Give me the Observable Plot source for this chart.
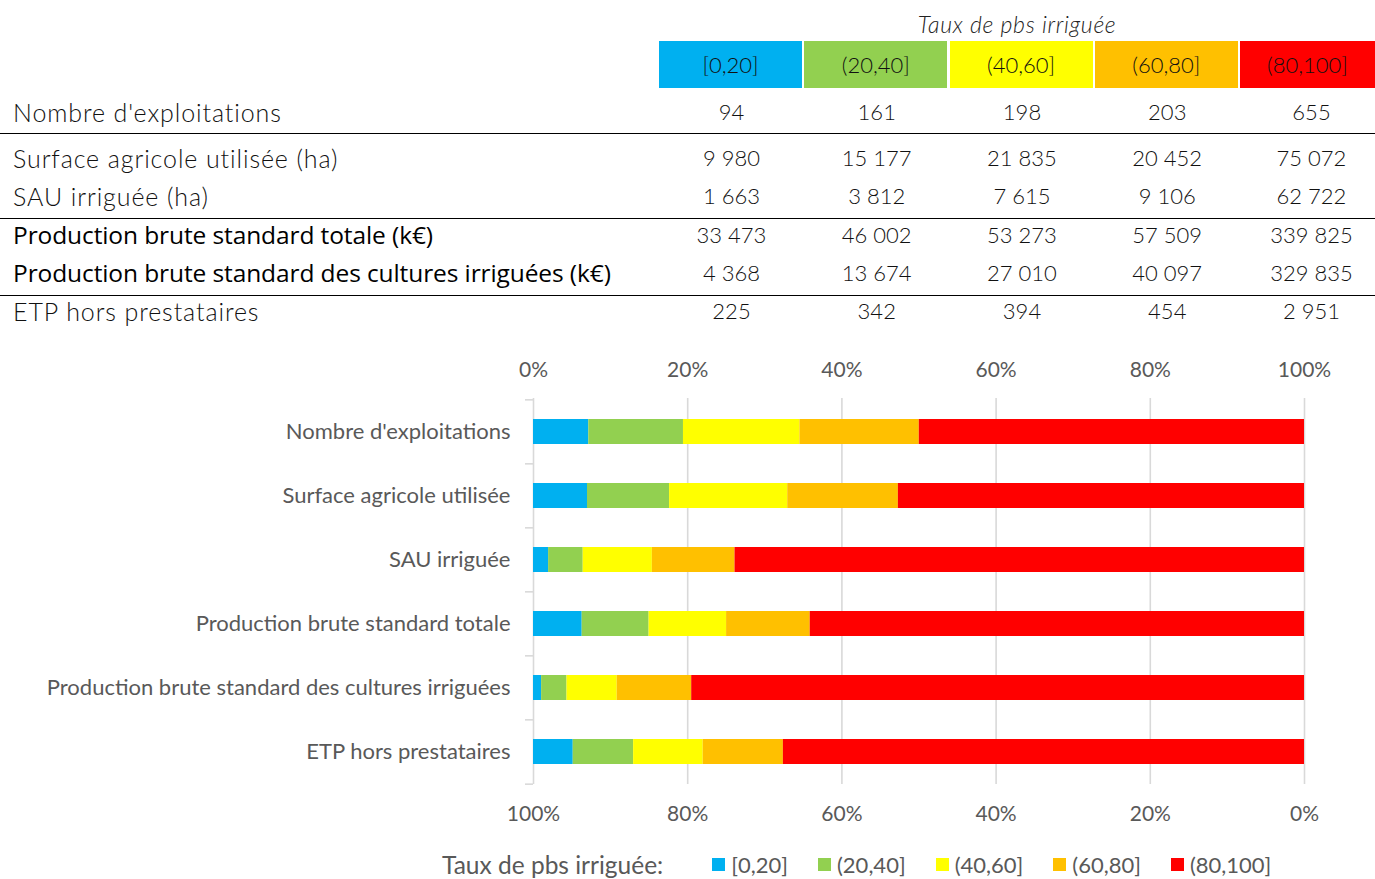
<!DOCTYPE html>
<html>
<head>
<meta charset="utf-8">
<script src="https://cdn.jsdelivr.net/npm/d3@7"></script>
<script src="https://cdn.jsdelivr.net/npm/@observablehq/plot@0.6"></script>
<style>
  html, body { margin: 0; padding: 0; background: #fff; }
  #page { position: relative; width: 1375px; height: 879px; overflow: hidden; font-family: Lato, sans-serif; }
  .thin { font-family: Lato, sans-serif; font-weight: 300; color: #111; }
  .abs { position: absolute; white-space: nowrap; }
  .hline { position: absolute; left: 0; width: 1375px; height: 0; border-top: 1.5px solid #000; }
  #chart { position: absolute; left: 0; top: 340px; }
  #legend { position: absolute; left: 442px; top: 850px; display: flex; align-items: center; font-family: Lato, sans-serif; font-size: 22px; color: #595959; }
  #legend .title { font-size: 24.5px; margin-right: 49px; }
  #legend .item { display: flex; align-items: center; margin-left: 30px; }
  #legend .sw { width: 13px; height: 13px; margin-right: 6px; }
</style>
</head>
<body>
<div id="page"></div>
<script>
// ---- data ----
const classes = ["[0,20]", "(20,40]", "(40,60]", "(60,80]", "(80,100]"];
const classColors = ["#00b0f0", "#92d050", "#ffff00", "#ffc000", "#ff0000"];
const legendTitle = "Taux de pbs irriguée";
const tableLabels = [
  "Nombre d'exploitations",
  "Surface agricole utilisée (ha)",
  "SAU irriguée (ha)",
  "Production brute standard totale (k€)",
  "Production brute standard des cultures irriguées (k€)",
  "ETP hors prestataires"
];
const chartLabels = [
  "Nombre d'exploitations",
  "Surface agricole utilisée",
  "SAU irriguée",
  "Production brute standard totale",
  "Production brute standard des cultures irriguées",
  "ETP hors prestataires"
];
const nbExploitations = [94, 161, 198, 203, 655];
const surfaceAgricole = [9980, 15177, 21835, 20452, 75072];
const sauIrriguee = [1663, 3812, 7615, 9106, 62722];
const pbsTotale = [33473, 46002, 53273, 57509, 339825];
const pbsIrriguee = [4368, 13674, 27010, 40097, 329835];
const etp = [225, 342, 394, 454, 2951];
const xTicks = [0, 0.2, 0.4, 0.6, 0.8, 1];

const series = [nbExploitations, surfaceAgricole, sauIrriguee, pbsTotale, pbsIrriguee, etp];

// ---- table ----
const page = document.getElementById("page");
const fmt = d3.formatLocale({decimal: ",", thousands: "\u00a0", grouping: [3], currency: ["", "€"]}).format(",d");
function add(html, css, cls) {
  const el = document.createElement("div");
  el.className = "abs " + (cls || "");
  el.innerHTML = html;
  Object.assign(el.style, css);
  page.appendChild(el);
  return el;
}
const colLeft = i => 659 + i * 145.25;
const colW = 143;
const colWidth = i => (i === 4 ? 1375 - colLeft(i) : colW);
// caption
add(legendTitle, {left: "659px", width: (1375 - 659) + "px", top: "10px", textAlign: "center", fontSize: "23px", letterSpacing: "0.7px", fontStyle: "italic", color: "#222"}, "thin");
// header
classes.forEach((c, i) => {
  add(c, {left: colLeft(i) + "px", width: colWidth(i) + "px", top: "41px", height: "47px", lineHeight: "47px",
    background: classColors[i], textAlign: "center", fontSize: "22px"}, "thin");
});
const rowY = [112, 158, 196, 235, 273, 311];
const boldRows = [3, 4];
tableLabels.forEach((lab, r) => {
  const isB = boldRows.includes(r);
  add(lab, {left: "13px", top: (rowY[r] - 16) + "px", height: "32px", lineHeight: "32px", fontSize: isB ? "24.5px" : "25px",
    fontFamily: isB ? "'Open Sans', sans-serif" : "Lato, sans-serif", fontWeight: isB ? "400" : "300",
    color: isB ? "#000" : "#111", letterSpacing: isB ? "-0.1px" : "0.9px"}, isB ? "" : "thin");
  series[r].forEach((v, i) => {
    add(fmt(v), {left: (colLeft(i) + (i === 4 ? 4 : 1)) + "px", width: colWidth(i) + "px", top: (rowY[r] - 15) + "px",
      height: "30px", lineHeight: "30px", textAlign: "center", fontSize: "22px"}, "thin");
  });
});
[133, 218, 295].forEach(y => {
  const l = document.createElement("div");
  l.className = "hline";
  l.style.top = y + "px";
  page.appendChild(l);
});

// ---- chart ----
const data = [];
chartLabels.forEach((lab, r) => {
  classes.forEach((c, i) => data.push({category: lab, cls: c, value: series[r][i]}));
});

const height = 490, marginTop = 58, marginBottom = 46;
const step = (height - marginTop - marginBottom) / chartLabels.length;
const gray = "#595959", gridCol = "#d9d9d9";

const chart = Plot.plot({
  width: 1375,
  height,
  marginLeft: 533,
  marginRight: 71,
  marginTop,
  marginBottom,
  style: {fontFamily: "Lato, sans-serif", fontSize: "21px", color: gray, background: "transparent"},
  x: {domain: [0, 1], axis: null},
  y: {domain: chartLabels, paddingInner: 0.61, paddingOuter: 0.305, axis: null},
  color: {domain: classes, range: classColors},
  marks: [
    Plot.ruleX(xTicks, {stroke: gridCol, strokeWidth: 1.6}),
    Plot.barX(data, Plot.stackX({x: "value", y: "category", fill: "cls", offset: "normalize", order: classes})),
    Plot.axisX(xTicks, {anchor: "top", label: null, tickSize: 0, tickPadding: 22, tickFormat: d => Math.round(d * 100) + "%", fill: gray, fontSize: 21}),
    Plot.axisX(xTicks, {anchor: "bottom", label: null, tickSize: 0, tickPadding: 22, tickFormat: d => Math.round((1 - d) * 100) + "%", fill: gray, fontSize: 21}),
    Plot.axisY({anchor: "left", label: null, tickSize: 0, tickPadding: 23, fill: gray, fontSize: 22}),
    Plot.axisY({anchor: "left", label: null, text: null, tickSize: 8, stroke: gridCol, strokeWidth: 1.6, dy: -step / 2}),
    Plot.axisY(chartLabels.slice(-1), {anchor: "left", label: null, text: null, tickSize: 8, stroke: gridCol, strokeWidth: 1.6, dy: step / 2})
  ]
});
chart.id = "chart";
page.appendChild(chart);

// ---- legend ----
const leg = document.createElement("div");
leg.id = "legend";
leg.innerHTML = `<span class="title">${legendTitle}:</span>` +
  classes.map((c, i) => `<span class="item"${i === 0 ? ' style="margin-left:0"' : ""}><span class="sw" style="background:${classColors[i]}"></span>${c}</span>`).join("");
page.appendChild(leg);
</script>
</body>
</html>
